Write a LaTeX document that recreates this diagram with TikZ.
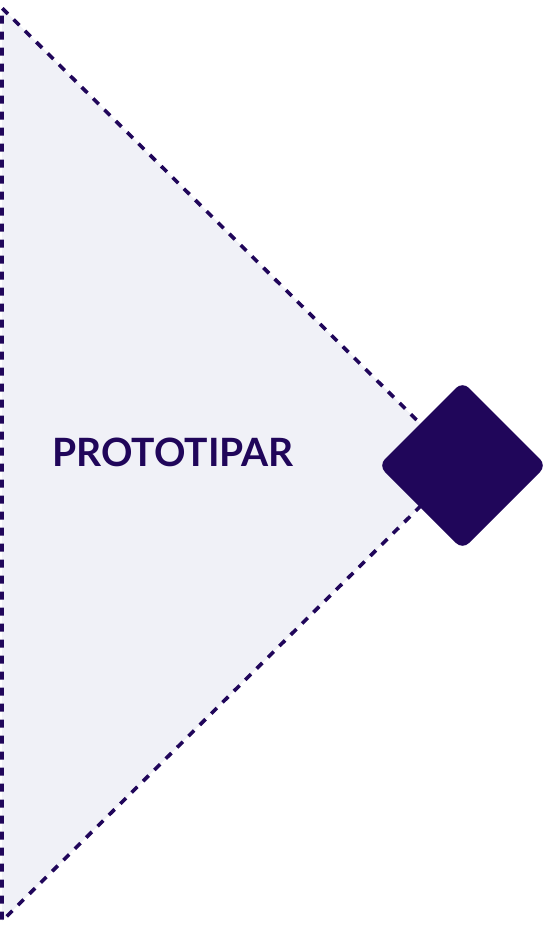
\documentclass[tikz,border=0pt]{standalone}
\usepackage{fontspec}
\setmainfont{Lato}[UprightFont=* Bold]
\definecolor{dk}{HTML}{20065A}
\definecolor{lt}{HTML}{F0F1F7}
\begin{document}
\begin{tikzpicture}[x=1pt,y=-1pt,
  edge/.style={draw=dk,line width=3.6pt,dash pattern=on 8pt off 8pt},
  lbl/.style={text=dk,font=\fontsize{39}{46}\selectfont,inner sep=0pt,anchor=west}]
\useasboundingbox (0,0) rectangle (550,927);
\coordinate (t) at (2,8);
\coordinate (b) at (2,921);
\coordinate (a) at (462,465);
\fill[lt] (t) -- (a) -- (b) -- cycle;
\draw[edge] (a) -- (t) -- (b) -- (a);
\fill[dk,rounded corners=9pt] (462.5,381.5) -- (546.5,465.5) -- (462.5,549.5) -- (378.5,465.5) -- cycle;
\node[lbl] (p) at (52,452) {PROTOTIPAR};
\end{tikzpicture}
\end{document}
